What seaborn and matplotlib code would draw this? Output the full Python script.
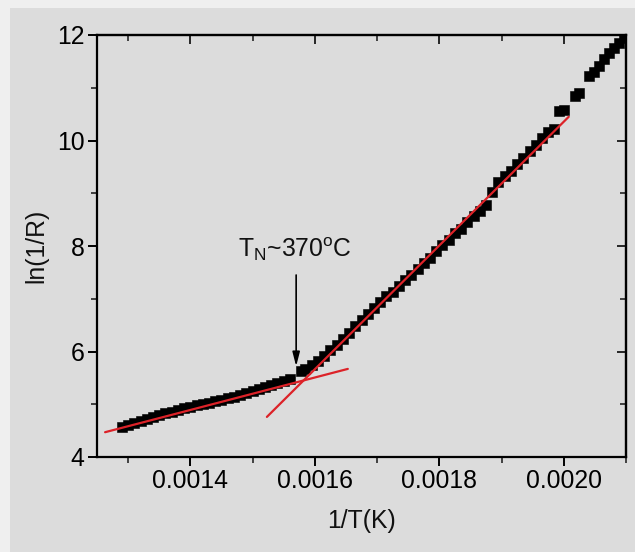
import numpy as np
import pandas as pd
import matplotlib
matplotlib.use("Agg")
import matplotlib.pyplot as plt
import seaborn as sns
from matplotlib.patches import Rectangle
from matplotlib.ticker import MultipleLocator, FormatStrFormatter

# ---- data ----
low_x = [0.00129, 0.00130, 0.00131, 0.00132, 0.00133, 0.00134, 0.00135, 0.00136,
         0.00137, 0.00138, 0.00139, 0.00140, 0.00141, 0.00142, 0.00143, 0.00144,
         0.00145, 0.00146, 0.00147, 0.00148, 0.00149, 0.00150, 0.00151, 0.00152,
         0.00153, 0.00154, 0.00155, 0.00156]
low_y = [4.56, 4.60, 4.64, 4.68, 4.72, 4.76, 4.79, 4.83, 4.86, 4.89, 4.92, 4.95,
         4.98, 5.01, 5.03, 5.06, 5.09, 5.11, 5.14, 5.17, 5.21, 5.25, 5.28, 5.32,
         5.36, 5.40, 5.44, 5.48]

high_x = [0.001578, 0.001585, 0.001595, 0.001605, 0.001615, 0.001625, 0.001635,
          0.001645, 0.001655, 0.001665, 0.001675, 0.001685, 0.001695, 0.001705,
          0.001715, 0.001725, 0.001735, 0.001745, 0.001755, 0.001765, 0.001775,
          0.001785, 0.001795, 0.001805, 0.001815, 0.001825, 0.001835, 0.001845,
          0.001855, 0.001865, 0.001875, 0.001885, 0.001895, 0.001905, 0.001915,
          0.001925, 0.001935, 0.001945, 0.001955, 0.001965, 0.001975, 0.001985,
          0.001993, 0.002000, 0.002018, 0.002025, 0.002040, 0.002048, 0.002056,
          0.002064, 0.002072, 0.002080, 0.002088, 0.002096, 0.002100]
high_y = [5.63, 5.66, 5.74, 5.82, 5.92, 6.02, 6.13, 6.24, 6.36, 6.48, 6.60, 6.72,
          6.83, 6.94, 7.05, 7.13, 7.24, 7.35, 7.45, 7.56, 7.67, 7.77, 7.90, 8.01,
          8.12, 8.24, 8.33, 8.45, 8.57, 8.66, 8.77, 9.02, 9.22, 9.33, 9.42, 9.55,
          9.67, 9.80, 9.92, 10.05, 10.16, 10.22, 10.55, 10.58, 10.85, 10.90, 11.22,
          11.30, 11.42, 11.55, 11.65, 11.75, 11.85, 11.95, 12.00]

fit1_x = [0.001263, 0.001653]
fit1_y = [4.47, 5.67]
fit2_x = [0.001523, 0.002008]
fit2_y = [4.76, 10.45]

x_ticks = [0.0014, 0.0016, 0.0018, 0.0020]
y_ticks = [4, 6, 8, 10, 12]
annot_text = r"T$_\mathrm{N}$~370$^\mathrm{o}$C"
annot_tip = (0.00157, 5.72)
annot_tail = (0.00157, 7.45)
annot_pos = (0.001568, 7.95)

BG = "#dcdcdc"
FS = 17.8

sns.set_theme(style="ticks")
plt.rcParams["font.family"] = ["Liberation Sans", "DejaVu Sans"]
plt.rcParams["mathtext.fontset"] = "custom"
plt.rcParams["mathtext.rm"] = "Liberation Sans"
plt.rcParams["mathtext.it"] = "Liberation Sans:italic"

fig = plt.figure(figsize=(6.35, 5.52), dpi=100, facecolor="#efefef")
fig.patches.append(Rectangle((10 / 635, 0), 1, 544 / 552, transform=fig.transFigure,
                             facecolor=BG, edgecolor="none", zorder=-10))
ax = fig.add_axes([97 / 635, 95 / 552, 529 / 635, 422 / 552])
ax.set_facecolor(BG)

df = pd.DataFrame({"x": low_x + high_x, "y": low_y + high_y})
sns.scatterplot(data=df, x="x", y="y", marker="s", s=50, color="black",
                edgecolor="black", linewidth=0.4, ax=ax, zorder=2)
sns.lineplot(x=fit1_x, y=fit1_y, color="#dc2228", lw=1.6, ax=ax, zorder=3,
             sort=False, estimator=None)
sns.lineplot(x=fit2_x, y=fit2_y, color="#dc2228", lw=1.6, ax=ax, zorder=3,
             sort=False, estimator=None)

ax.annotate("", xy=annot_tip, xytext=annot_tail,
            arrowprops=dict(arrowstyle="-|>,head_length=0.7,head_width=0.18",
                            color="black", lw=1.2, shrinkA=0, shrinkB=0))
ax.text(annot_pos[0], annot_pos[1], annot_text, ha="center", va="center",
        fontsize=FS, color="#111111")

ax.set_xlim(0.00125, 0.0021)
ax.set_ylim(4, 12)
ax.set_xticks(x_ticks)
ax.set_yticks(y_ticks)
ax.xaxis.set_minor_locator(MultipleLocator(0.0001))
ax.yaxis.set_minor_locator(MultipleLocator(1))
ax.xaxis.set_major_formatter(FormatStrFormatter("%.4f"))
ax.yaxis.set_major_formatter(FormatStrFormatter("%d"))

for s in ax.spines.values():
    s.set_visible(True)
    s.set_linewidth(1.6)
    s.set_color("black")

ax.tick_params(which="major", direction="out", length=6.5, width=1.4,
               labelsize=FS, colors="black", pad=2.5)
ax.tick_params(which="minor", direction="out", length=4.3, width=1.2)
ax.tick_params(top=False, right=False, which="both")

secx = ax.secondary_xaxis("top")
secx.set_xticks(x_ticks)
secx.xaxis.set_minor_locator(MultipleLocator(0.0001))
secx.tick_params(which="major", direction="in", length=6.5, width=1.4, labeltop=False)
secx.tick_params(which="minor", direction="in", length=4.3, width=1.2)
secx.spines["top"].set_linewidth(1.6)
secy = ax.secondary_yaxis("right")
secy.set_yticks(y_ticks)
secy.yaxis.set_minor_locator(MultipleLocator(1))
secy.tick_params(which="major", direction="in", length=6.5, width=1.4, labelright=False)
secy.tick_params(which="minor", direction="in", length=4.3, width=1.2)
secy.spines["right"].set_linewidth(1.6)

ax.set_xlabel("1/T(K)", fontsize=FS, labelpad=11, color="#111111")
ax.set_ylabel("ln(1/R)", fontsize=FS, labelpad=6, color="#111111")

fig.savefig("out.png", dpi=100, facecolor=fig.get_facecolor())
